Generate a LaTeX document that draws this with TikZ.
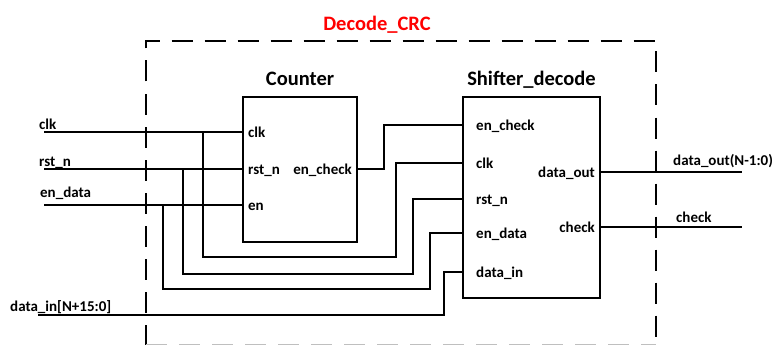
\documentclass[tikz,border=0pt]{standalone}
\usepackage{fontspec}
\setmainfont{Carlito}
\usetikzlibrary{positioning}
\definecolor{TitleRed}{HTML}{FF0000}

\tikzset{
  wire/.style={line width=2.7pt},
  block/.style={draw, line width=2.8pt, inner sep=0pt},
  port/.style={font=\bfseries\fontsize{15}{18}\selectfont, inner sep=0pt, text height=10pt, text depth=0pt},
  pinlabel/.style={font=\bfseries\fontsize{15}{18}\selectfont, inner sep=0pt, anchor=base west},
  title/.style={font=\bfseries\fontsize{20.5}{24}\selectfont, inner sep=0pt, anchor=base},
  frame/.style={line width=2.8pt, dash pattern=on 21pt off 12pt},
}

\begin{document}
\begin{tikzpicture}[x=1pt, y=-1pt]
\useasboundingbox (0,0) rectangle (774,345);

% top level module
\draw[frame] (146,345.5) -- (146,41) -- (656,41) -- (656,345.5);
\draw[frame, black!25] (146,345.5) -- (656,345.5);
\node[title, text=TitleRed] (top-title) at (377,31) {Decode\_CRC};

% sub blocks
\node[block, minimum width=114pt, minimum height=145pt] (counter) at (300,169.5) {};
\node[block, minimum width=137pt, minimum height=201pt] (shifter) at (531.5,197.5) {};
\node[title] (counter-title) at ([yshift=10pt]counter.north) {Counter};
\node[title] (shifter-title) at ([yshift=10pt]shifter.north) {Shifter\_decode};

% pins of the counter
\foreach \pin/\txt/\y in {clk/clk/132, rst/rst\_n/169, en/en/205} {
  \coordinate (cnt-\pin) at (counter.west |- 0,\y);
  \node[port, anchor=west] (cnt-\pin-label) at (248,\y) {\txt};
}
\coordinate (cnt-chk) at (counter.east |- 0,169);
\node[port, anchor=east] (cnt-chk-label) at (352,169) {en\_check};

% pins of the shifter
\foreach \pin/\txt/\y in {chk/en\_check/125, clk/clk/163, rst/rst\_n/199, en/en\_data/233, din/data\_in/272} {
  \coordinate (shf-\pin) at (shifter.west |- 0,\y);
  \node[port, anchor=west] (shf-\pin-label) at (476,\y) {\txt};
}
\foreach \pin/\txt/\y in {out/data\_out/172, check/check/227} {
  \coordinate (shf-\pin) at (shifter.east |- 0,\y);
  \node[port, anchor=east] (shf-\pin-label) at (595,\y) {\txt};
}

% inputs
\coordinate (clk-in) at (44,132);
\coordinate (rst-in) at (44,169);
\coordinate (en-in) at (44,205);
\coordinate (din-in) at (38,315);
\node[pinlabel] (clk-name) at (39,129) {clk};
\node[pinlabel] (rst-name) at (39,166) {rst\_n};
\node[pinlabel] (en-name) at (40,197) {en\_data};
\node[pinlabel] (din-name) at (10,311) {data\_in[N+15:0]};

% outputs
\coordinate (dout) at (742,172);
\coordinate (chk-out) at (742,227);
\node[pinlabel] (dout-name) at (673,165) {data\_out(N-1:0)};
\node[pinlabel] (chk-name) at (676,222) {check};

% wires
\draw[wire] (clk-in) -- (cnt-clk);
\draw[wire] (rst-in) -- (cnt-rst);
\draw[wire] (en-in) -- (cnt-en);
\coordinate (clk-tap) at (203,132);
\coordinate (rst-tap) at (183,169);
\coordinate (en-tap) at (163,205);
\draw[wire] (clk-tap) |- (396,257) |- (shf-clk);
\draw[wire] (rst-tap) |- (413,274) |- (shf-rst);
\draw[wire] (en-tap) |- (430,289) |- (shf-en);
\draw[wire] (din-in) -- (444,315) |- (shf-din);
\draw[wire] (cnt-chk) -| (384,125) -- (shf-chk);
\draw[wire] (shf-out) -- (dout);
\draw[wire] (shf-check) -- (chk-out);
\end{tikzpicture}
\end{document}
